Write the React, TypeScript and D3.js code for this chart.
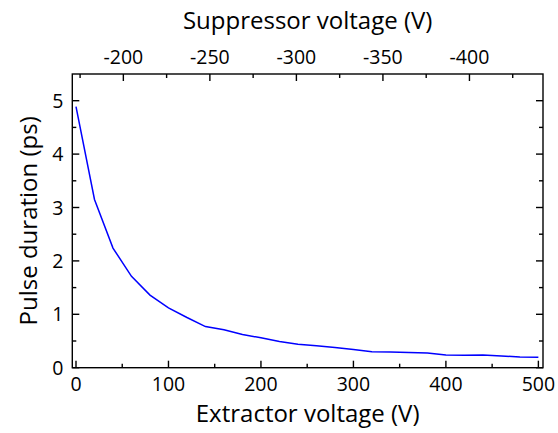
import React from "react";
import * as d3 from "d3";

const extractorVoltage = [0, 20, 40, 60, 80, 100, 120, 140, 160, 180, 200, 220, 240, 260, 280, 300, 320, 340, 360, 380, 400, 420, 440, 460, 480, 500];
const pulseDuration = [4.89, 3.15, 2.24, 1.71, 1.36, 1.12, 0.94, 0.77, 0.71, 0.62, 0.56, 0.49, 0.44, 0.41, 0.38, 0.34, 0.3, 0.295, 0.285, 0.275, 0.24, 0.235, 0.24, 0.22, 0.2, 0.195];
const bottomTicks = [0, 100, 200, 300, 400, 500];
const bottomMinor = [50, 150, 250, 350, 450];
const topTicks = [-200, -250, -300, -350, -400];
const topMinor = [-175, -225, -275, -325, -375, -425];
const leftTicks = [0, 1, 2, 3, 4, 5];
const leftMinor = [0.5, 1.5, 2.5, 3.5, 4.5];

const W = 558, H = 433;
const L = 72.3, R = 543, T = 74, B = 367.7;
const FONT = "Open Sans, sans-serif";

export default function App() {
  const x = d3.scaleLinear().domain([-4, 505]).range([L, R]);
  const xTop = d3.scaleLinear().domain([-170.5, -442.5]).range([L, R]);
  const y = d3.scaleLinear().domain([0, 5.5]).range([B, T]);
  const line = d3.line<number>().x((_, i) => x(extractorVoltage[i])).y((d) => y(d));
  const major = 7, minor = 4;
  const sw = 1.4;
  return (
    <svg width={W} height={H} style={{ position: "absolute", left: 0, top: 0 }} fontFamily={FONT}>
      <rect x={0} y={0} width={W} height={H} fill="white" />
      <path d={line(pulseDuration) || ""} fill="none" stroke="#0000ff" strokeWidth={1.5} />
      <g stroke="black" strokeWidth={sw}>
        {bottomTicks.map((v) => <line key={"b" + v} x1={x(v)} x2={x(v)} y1={B} y2={B - major} />)}
        {bottomMinor.map((v) => <line key={"bm" + v} x1={x(v)} x2={x(v)} y1={B} y2={B - minor} />)}
        {topTicks.map((v) => <line key={"t" + v} x1={xTop(v)} x2={xTop(v)} y1={T} y2={T + major} />)}
        {topMinor.map((v) => <line key={"tm" + v} x1={xTop(v)} x2={xTop(v)} y1={T} y2={T + minor} />)}
        {leftTicks.map((v) => <line key={"l" + v} x1={L} x2={L + major} y1={y(v)} y2={y(v)} />)}
        {leftMinor.map((v) => <line key={"lm" + v} x1={L} x2={L + minor} y1={y(v)} y2={y(v)} />)}
        {leftTicks.map((v) => <line key={"r" + v} x1={R} x2={R - major} y1={y(v)} y2={y(v)} />)}
        {leftMinor.map((v) => <line key={"rm" + v} x1={R} x2={R - minor} y1={y(v)} y2={y(v)} />)}
      </g>
      <rect x={L} y={T} width={R - L} height={B - T} fill="none" stroke="black" strokeWidth={sw} />
      <g fontSize={19.5} fill="black">
        {bottomTicks.map((v) => (
          <text key={"bl" + v} x={x(v)} y={B + 23} textAnchor="middle">{v}</text>
        ))}
        {topTicks.map((v) => (
          <text key={"tl" + v} x={xTop(v)} y={T - 10} textAnchor="middle">{v}</text>
        ))}
        {leftTicks.map((v) => (
          <text key={"ll" + v} x={L - 9} y={y(v) + 7} textAnchor="end">{v}</text>
        ))}
      </g>
      <text x={(L + R) / 2} y={29} textAnchor="middle" fontSize={24}>Suppressor voltage (V)</text>
      <text x={(L + R) / 2} y={422} textAnchor="middle" fontSize={24}>Extractor voltage (V)</text>
      <text transform={`translate(37,${(T + B) / 2}) rotate(-90)`} textAnchor="middle" fontSize={24}>Pulse duration (ps)</text>
    </svg>
  );
}
